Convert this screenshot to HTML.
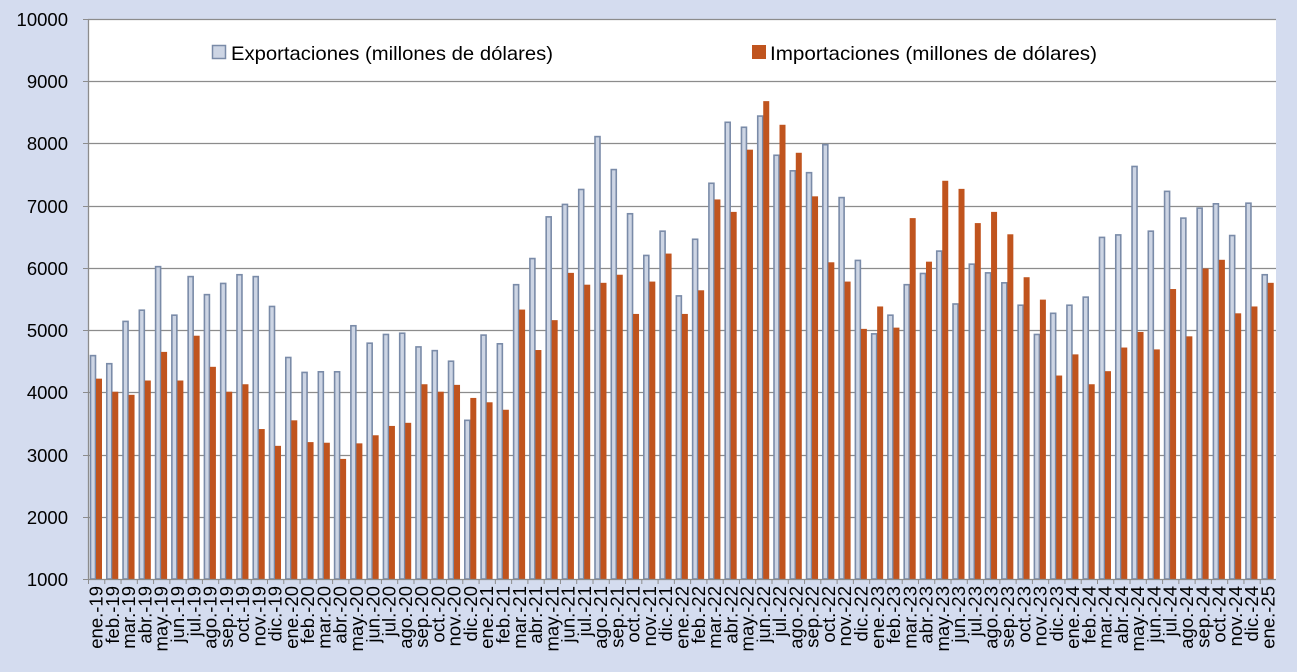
<!DOCTYPE html>
<html><head><meta charset="utf-8"><style>
body{margin:0;background:#d4dcef;}
svg{display:block;font-family:"Liberation Sans",Calibri,sans-serif;}
</style></head><body>
<svg id="chart" width="1297" height="672" viewBox="0 0 1297 672">
<rect x="0" y="0" width="1297" height="672" fill="#d4dcef"/>
<rect x="88" y="19" width="1188" height="560" fill="#ffffff"/>
<g id="grid"></g><g id="bars"></g><g id="axes"></g>
<g>
<rect x="212.5" y="45.5" width="13" height="13" fill="#cdd5e4" stroke="#7a8ba8" stroke-width="1.5"/>
<text x="231" y="60" font-size="19.5" textLength="322" lengthAdjust="spacingAndGlyphs" fill="#000">Exportaciones (millones de dólares)</text>
<rect x="752" y="45" width="14" height="14" fill="#c0541e"/>
<text x="770" y="60" font-size="19.5" textLength="327" lengthAdjust="spacingAndGlyphs" fill="#000">Importaciones (millones de dólares)</text>
</g>
</svg>
<script>
const yTicks=[1000,2000,3000,4000,5000,6000,7000,8000,9000,10000];
const years=['19','20','21','22','23','24','25'];
const months=['ene.','feb.','mar.','abr.','may.','jun.','jul.','ago.','sep.','oct.','nov.','dic.'];
const exportsVals=[4590,4460,5140,5320,6020,5240,5860,5570,5750,5890,5860,5380,
4560,4320,4330,4330,5070,4790,4930,4950,4730,4670,4500,3550,
4920,4780,5730,6150,6820,7020,7260,8110,7580,6870,6200,6590,
5550,6460,7360,8340,8260,8440,7810,7560,7530,7980,7130,6120,
4940,5240,5730,5910,6270,5420,6060,5920,5760,5400,4930,5270,
5400,5530,6490,6530,7630,6590,7230,6800,6960,7030,6520,7040,
5890];
const importsVals=[4220,4010,3960,4190,4650,4190,4910,4410,4010,4130,3410,3140,
3550,3200,3190,2930,3180,3310,3460,3510,4130,4010,4120,3910,
3840,3720,5330,4680,5160,5920,5730,5760,5890,5260,5780,6230,
5260,5640,7100,6900,7900,8680,8300,7850,7150,6090,5780,5020,
5380,5040,6800,6100,7400,7270,6720,6900,6540,5850,5490,4270,
4610,4130,4340,4720,4970,4690,5660,4900,5990,6130,5270,5380,
5760];
const categories=[];
for(let i=0;i<exportsVals.length;i++){categories.push(months[i%12]+'-'+years[Math.floor(i/12)]);}
const NS='http://www.w3.org/2000/svg';
const X0=88,X1=1276,Y0=579,Y1=19,VMIN=1000,VMAX=10000;
const cw=(X1-X0)/categories.length;
const yS=v=>Y0-(v-VMIN)/(VMAX-VMIN)*(Y0-Y1);
const xS=i=>X0+i*cw;
function mk(t,a,p){const e=document.createElementNS(NS,t);for(const k in a)e.setAttribute(k,a[k]);p.appendChild(e);return e;}
const grid=document.getElementById('grid'),bars=document.getElementById('bars'),axes=document.getElementById('axes');
yTicks.forEach(v=>{
 const y=Math.round(yS(v))+0.5;
 if(v>VMIN){const l=mk('line',{x1:X0,x2:X1,y1:y,y2:y,stroke:'#8c8c8c','stroke-width':1.3},grid);
 
 }
 const tk=mk('line',{x1:X0-5,x2:X0,y1:y,y2:y,stroke:'#8c8c8c'},axes);
 
 
 const t=mk('text',{x:68,y:y+6.5,'text-anchor':'end','font-size':18.5},axes);t.textContent=v;
 
 
});
categories.forEach((c,i)=>{
 const x=xS(i);
 const e=mk('rect',{x:x+2.5,y:yS(exportsVals[i]),width:5,height:Y0-yS(exportsVals[i]),fill:'#cdd5e4',stroke:'#7a8ba8','stroke-width':1.6},bars);
 
 
 const m=mk('rect',{x:x+8,y:yS(importsVals[i]),width:6,height:Y0-yS(importsVals[i]),fill:'#c0541e'},bars);
 
 
 const tk=mk('line',{x1:x+0.5,x2:x+0.5,y1:Y0,y2:Y0+5,stroke:'#8c8c8c'},axes);
 
 
 const cx=x+cw/2+6.5;
 const t=mk('text',{x:cx,y:586,'text-anchor':'end','font-size':18.5,transform:'rotate(-90 '+cx+' 586)'},axes);t.textContent=c;
 
 
});
const ax=mk('line',{x1:X0,x2:X1,y1:Y0+0.5,y2:Y0+0.5,stroke:'#8c8c8c','stroke-width':1.3},axes);


const ay=mk('line',{x1:X0+0.5,x2:X0+0.5,y1:Y1,y2:Y0,stroke:'#8c8c8c','stroke-width':1.3},axes);


</script>
</body></html>
